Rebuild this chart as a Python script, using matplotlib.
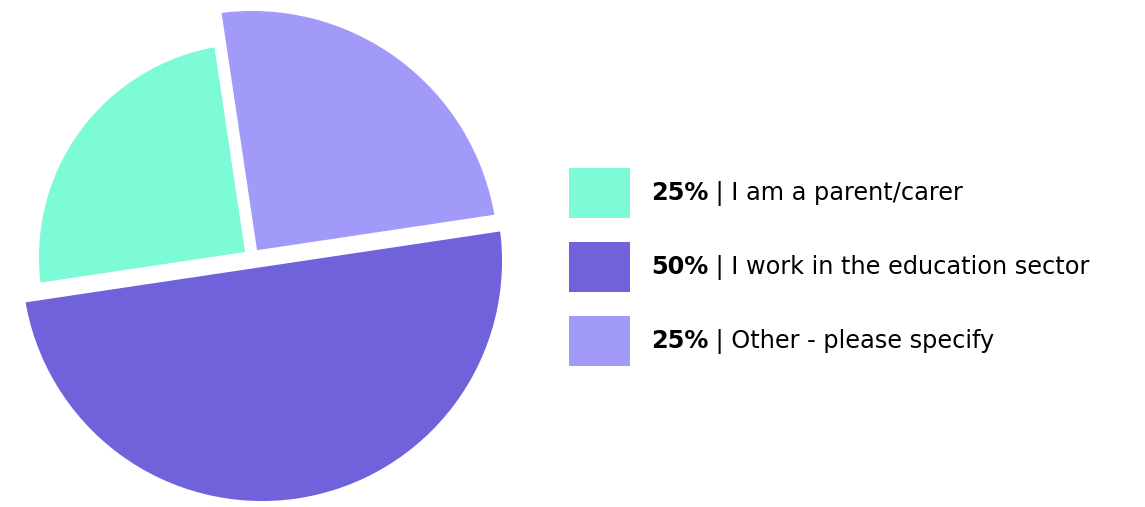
import matplotlib.pyplot as plt
from matplotlib.patches import Rectangle

labels = ['I am a parent/carer', 'I work in the education sector', 'Other - please specify']
shares = [25, 50, 25]
colors = ['#7dfad6', '#7062da', '#a29af9']
radii = [219, 246, 252]
# small per-slice offsets (px) to mimic the slightly skewed original
offsets = [(0, 0), (10, -4), (0, 0)]

W, H = 1145, 507
fig = plt.figure(figsize=(W / 100, H / 100), dpi=100)
fig.patch.set_facecolor('white')

# pie area, data units = pixels
ax = fig.add_axes([0, 0, H / W, 1])
cx, cy = 252, 250
wedges, _ = ax.pie(shares, colors=colors, startangle=98.5, counterclock=True,
                   center=(cx, cy), radius=252, frame=True,
                   wedgeprops=dict(edgecolor='white', linewidth=8.6))
for w, r, (dx, dy) in zip(wedges, radii, offsets):
    w.set_radius(r)
    w.set_center((cx + dx, cy + dy))
ax.set_xlim(0, H)
ax.set_ylim(0, H)
ax.set_aspect('equal')
ax.axis('off')

# legend
fig.canvas.draw()
renderer = fig.canvas.get_renderer()
rows_y = [193, 267, 341]
font = 'DejaVu Sans'
fs = 17.3
for lab, s, c, yc in zip(labels, shares, colors, rows_y):
    fig.patches.append(Rectangle((569 / W, 1 - (yc + 25) / H), 61 / W, 50 / H,
                                 transform=fig.transFigure, facecolor=c,
                                 edgecolor='none'))
    t = fig.text(651 / W, 1 - yc / H, f'{s}%', fontsize=fs, fontweight='bold',
                 family=font, va='center', ha='left', color='black')
    bb = t.get_window_extent(renderer)
    fig.text(bb.x1 / W, 1 - yc / H, f' | {lab}', fontsize=fs, family=font,
             va='center', ha='left', color='black')

fig.savefig('out.png', dpi=100, facecolor='white')
